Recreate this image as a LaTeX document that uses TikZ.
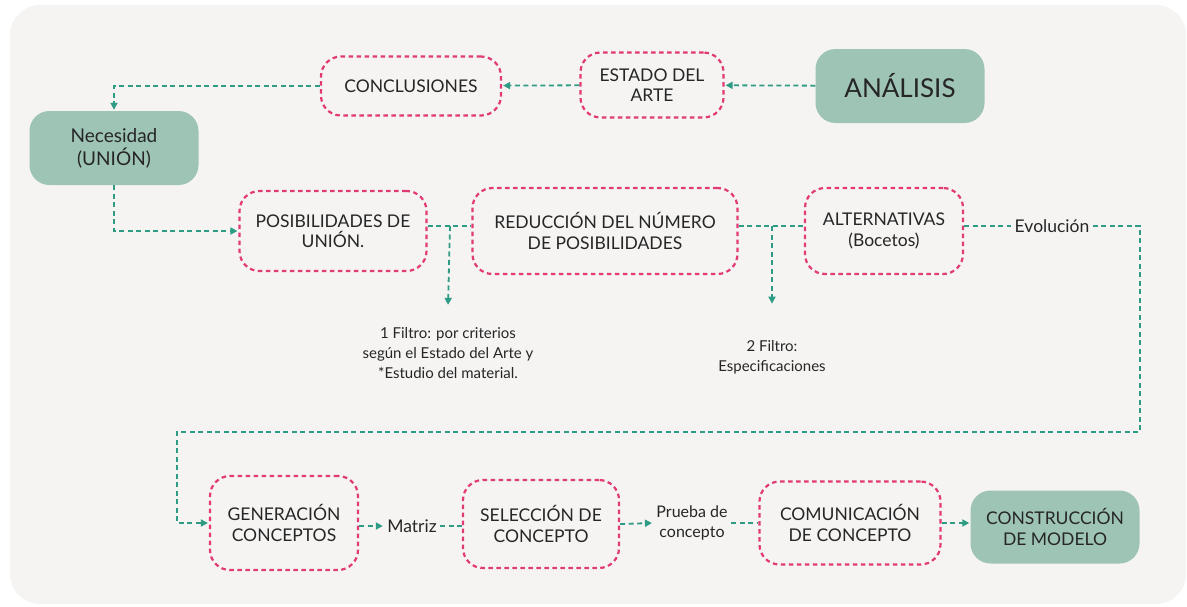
\documentclass[tikz,border=0pt]{standalone}
\usepackage{fontspec}
\setmainfont{Lato}
\usetikzlibrary{arrows.meta}
\definecolor{sage}{HTML}{9EC4B6}
\definecolor{teal}{HTML}{2E9C84}
\definecolor{rosa}{HTML}{E23A75}
\definecolor{paper}{HTML}{F5F4F3}
\definecolor{ink}{HTML}{262626}
\begin{document}
\begin{tikzpicture}[x=1pt, y=-1pt,
    every node/.style={text=ink, align=center, font=\fontsize{17.5}{20.5}\selectfont},
    solidbox/.style={fill=sage, rounded corners=20pt, inner sep=0pt},
    dashbox/.style={draw=rosa, line width=2.2pt, dash pattern=on 4.5pt off 3.5pt,
        rounded corners=20pt, inner sep=0pt},
    note/.style={font=\fontsize{15}{20}\selectfont},
    line/.style={draw=teal, line width=1.8pt, dash pattern=on 5pt off 3.5pt},
    link/.style={line, -{Triangle[length=7pt, width=7pt]}, shorten >=1pt}]
    \useasboundingbox (0,0) rectangle (1187,606);
    \fill[paper, rounded corners=30pt] (10,5) rectangle (1186,604);
    % top row
    \node[solidbox, minimum width=169pt, minimum height=74pt,
        font=\fontsize{26}{30}\selectfont] (analisis) at (900,86) {ANÁLISIS};
    \node[dashbox, minimum width=143pt, minimum height=65pt] (estado) at (652,85) {ESTADO DEL\\ARTE};
    \node[dashbox, minimum width=180pt, minimum height=59pt] (conclusiones) at (411,86) {CONCLUSIONES};
    \node[solidbox, minimum width=169pt, minimum height=74pt,
        font=\fontsize{19}{23}\selectfont] (necesidad) at (114,148) {Necesidad\\(UNIÓN)};
    % middle row
    \node[dashbox, minimum width=187pt, minimum height=80pt] (posibilidades) at (333,231) {POSIBILIDADES DE\\UNIÓN.};
    \node[dashbox, minimum width=265pt, minimum height=86pt] (reduccion) at (605,231) {REDUCCIÓN DEL NÚMERO\\DE POSIBILIDADES};
    \node[dashbox, minimum width=158pt, minimum height=86pt] (alternativas) at (884,231) {ALTERNATIVAS\\(Bocetos)};
    \node (evolucion) at (1052,226) {Evolución};
    \node[note] (filtro1) at (448,353) {1 Filtro: por criterios\\según el Estado del Arte y\\*Estudio del material.};
    \node[note] (filtro2) at (772,357) {2 Filtro:\\Especificaciones};
    % bottom row
    \node[dashbox, minimum width=148pt, minimum height=94pt] (generacion) at (284,523) {GENERACIÓN\\CONCEPTOS};
    \node (matriz) at (412,526) {Matriz};
    \node[dashbox, minimum width=156pt, minimum height=88pt] (seleccion) at (541,524) {SELECCIÓN DE\\CONCEPTO};
    \node[note, font=\fontsize{16}{20}\selectfont] (prueba) at (692,523) {Prueba de\\concepto};
    \node[dashbox, minimum width=181pt, minimum height=83pt] (comunicacion) at (850,523) {COMUNICACIÓN\\DE CONCEPTO};
    \node[solidbox, minimum width=169pt, minimum height=73pt] (construccion) at (1055,527) {CONSTRUCCIÓN\\DE MODELO};
    \coordinate (f1) at (450,226);
    \coordinate (f2) at (772,226);
    \coordinate (loopA) at (1140,226);
    \coordinate (loopB) at (1140,432);
    \coordinate (loopC) at (177,432);
    % connectors
    \draw[link] (analisis) -- (estado);
    \draw[link] (estado) -- (conclusiones);
    \draw[link] (conclusiones.west) -| (necesidad.north);
    \draw[link] (necesidad.south) |- (posibilidades.west);
    \draw[line] (posibilidades.east |- f1) -- (reduccion.west |- f1);
    \draw[line] (reduccion.east |- f2) -- (alternativas.west |- f2);
    \draw[link] (f1) -- ([yshift=18pt]filtro1.north);
    \draw[link] (f2) -- ([yshift=32pt]filtro2.north);
    \draw[line] (alternativas.east |- evolucion) -- (evolucion.west);
    \draw[link] (evolucion.east) -- (loopA) -- (loopB) -- (loopC) |- (generacion.west);
    \draw[link] (generacion.east |- matriz.west) -- (matriz.west);
    \draw[line] (matriz.east) -- (seleccion.west |- matriz.east);
    \draw[link] (seleccion.east) -- (prueba.west);
    \draw[line] (prueba.east) -- (comunicacion.west);
    \draw[link] (comunicacion.east) -- (construccion.west |- comunicacion.east);
\end{tikzpicture}
\end{document}
